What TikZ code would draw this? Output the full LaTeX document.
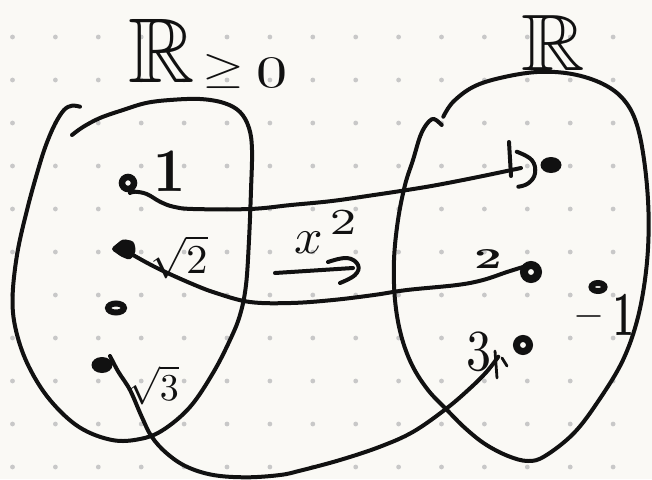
\documentclass[tikz,border=0pt]{standalone}
\usepackage{graphicx}
\usepackage{amssymb}
\usetikzlibrary{shapes.geometric}
\definecolor{paper}{RGB}{250,249,245}
\definecolor{ink}{RGB}{17,17,17}
\definecolor{griddot}{RGB}{200,200,200}
\begin{document}
\begin{tikzpicture}[x=1pt,y=-1pt,
  ink line/.style={draw=ink, line width=4pt, line cap=round, line join=round},
  fine ink/.style={draw=ink, line width=2.8pt, line cap=round, line join=round},
  ringdot/.style={circle, draw=ink, line width=6pt, minimum size=11pt, inner sep=0pt},
  oval ring/.style={ellipse, draw=ink, line width=5.5pt, inner sep=0pt},
  blobdot/.style={ellipse, fill=ink, inner sep=0pt},
  hand/.style={text=ink, inner sep=0pt},
]
\useasboundingbox (0,0) rectangle (652,479);
\fill[paper] (0,0) rectangle (652,479);
% dotted notebook grid
\foreach \i in {0,...,14}
  \foreach \j in {0,...,10}
    \fill[griddot] (12.5+42.9*\i, 37+43*\j) circle[radius=2.4pt];

% domain blob
\draw[ink line] plot[smooth, tension=0.6] coordinates {
  (80,106.7) (72,105.7) (64,110) (55,124) (46,145) (38,170) (27,210) (17,255)
  (12.5,300) (16.6,333) (29,367) (50,400) (79,427) (112,440) (140,439)
  (163,430) (190,407) (213,373) (230,340) (240,315) (246,285) (249,240)
  (251,190) (252,150) (249,128) (240,112) (224,103) (200,99) (170,100)
  (146,103) (123,110) (100,118) (83,127) (72,135)};

% codomain blob
\draw[ink line] plot[smooth, tension=0.6] coordinates {
  (441.7,125) (436,120) (431.7,119.3) (426,125) (420,136.7) (413,160)
  (405,185) (398,220) (394,260) (395,300) (401,335) (412,365) (428,390)
  (447,410) (465,428) (485,444) (508,456) (528,461) (545,456) (574,433)
  (599,400) (623,360) (638,317) (646.5,267) (648.6,217) (645,167) (637,125)
  (624,100) (603,84) (572,74) (537,72) (500,78) (473,87) (453,102) (443.3,116.7)};

% set labels
\node[hand, anchor=base west] (domain) at (128,82)
  {\scalebox{9.2}{$\mathbb{R}$}\kern8pt\scalebox{5.4}[4.4]{$\geq$}\kern12pt\raisebox{-5pt}{\scalebox{6.2}[4.5]{0}}};
\node[hand, anchor=base west] (codomain) at (521,70)
  {\scalebox{8.8}[8]{$\mathbb{R}$}};

% points of the domain
\node[ringdot, line width=6.5pt, minimum size=12pt] (one) at (128,183) {};
\coordinate (sqtwo) at (124,249);
\node[oval ring, line width=6pt, minimum width=16pt, minimum height=9pt] (zero) at (116,308) {};
\node[blobdot, minimum width=21pt, minimum height=16pt] (sqthree) at (102,365) {};

% points of the codomain
\node[blobdot, minimum width=21pt, minimum height=16pt] (img1) at (551,165) {};
\node[ringdot, line width=8pt, minimum size=14pt] (img2) at (531,272) {};
\node[ringdot, line width=7pt, minimum size=13pt] (img3) at (523,345) {};
\node[oval ring, line width=6pt, minimum width=13pt, minimum height=8pt] (imgm1) at (598,287) {};

% point labels
\node[hand, anchor=base] (lone) at (170,191) {\scalebox{5.6}[6.2]{\bfseries 1}};
\node[hand, anchor=base west] (lsqtwo) at (150,273) {\scalebox{4.3}[4.1]{$\sqrt{2}$}};
\node[hand, anchor=base west] (lsqthree) at (128,400) {\scalebox{3.8}{$\sqrt{3}$}};
\node[hand, anchor=base] (ltwo) at (488,268) {\scalebox{4.8}[2.9]{\bfseries 2}};
\node[hand, anchor=base] (lthree) at (479,370) {\scalebox{5}[5.8]{3}};
\node[hand, anchor=base west] (lmone) at (573,335)
  {\raisebox{9pt}{\scalebox{4}{$-$}}\kern9pt\scalebox{3.6}[6.3]{\bfseries 1}};

% the map x^2
\node[hand, anchor=base west] (fmap) at (294,253)
  {\scalebox{5}{$x^{\,\scalebox{1.35}[1.05]{$\scriptstyle 2$}}$}};
\coordinate (fa) at (275,273);
\coordinate (fb) at (353,268);
\draw[ink line] (fa) -- (fb);
\draw[ink line] plot[smooth, tension=0.7] coordinates {
  (328,262) (347,258) (358,265) (355,275) (340,283)};

% 1 -> 1
\coordinate (tip1) at (521,168);
\draw[ink line] plot[smooth, tension=0.6] coordinates {
  ([shift={(2,10)}]one) (135,191.7) (146.7,194) (160,201.7) (173.3,206.7)
  (193,209) (250,209) (291,205) (332,201) (374,195) (407,190) (437,185)
  (478,177) (tip1)};
\draw[ink line] (509,142) -- (511,176);
\draw[ink line] plot[smooth, tension=0.7] coordinates {
  (516.7,151.7) (531.7,160) (535,173.3) (528.3,183.3) (518.3,186.7)};

% sqrt 2 -> 2
\draw[ink line] plot[smooth, tension=0.6] coordinates {
  ([shift={(-8,-5)}]img2) (507,272) (483,280) (457,285) (407,290) (374,295)
  (333,300) (291,303) (250,302) (216,293) (190,283) (157,268) (133,255)
  ([shift={(2,2)}]sqtwo)};
\filldraw[ink, line width=2pt, rounded corners=2.5pt]
  ([shift={(-12,0)}]sqtwo) -- ([shift={(-1,-9)}]sqtwo) -- ([shift={(9,-7)}]sqtwo)
  -- ([shift={(11,2)}]sqtwo) -- ([shift={(6,10)}]sqtwo) -- ([shift={(-2,7)}]sqtwo) -- cycle;

% sqrt 3 -> 3
\coordinate (tip3) at (498.3,356.7);
\draw[ink line] plot[smooth, tension=0.6] coordinates {
  ([shift={(8,-9)}]sqthree) (118.3,371.7) (130,390) (141.7,416.7) (151.7,436.7)
  (166.7,453.3) (186.7,466.7) (213.3,475) (246.7,477.3) (280,475) (300,470.7)
  (340,460) (380,446.7) (413.3,431.7) (446.7,408.3) (470,388.3) (486.7,371.7)
  (tip3)};
\draw[fine ink] (495,351) -- (497,378);
\draw[fine ink] (502,358) -- (507,366);
\end{tikzpicture}
\end{document}
